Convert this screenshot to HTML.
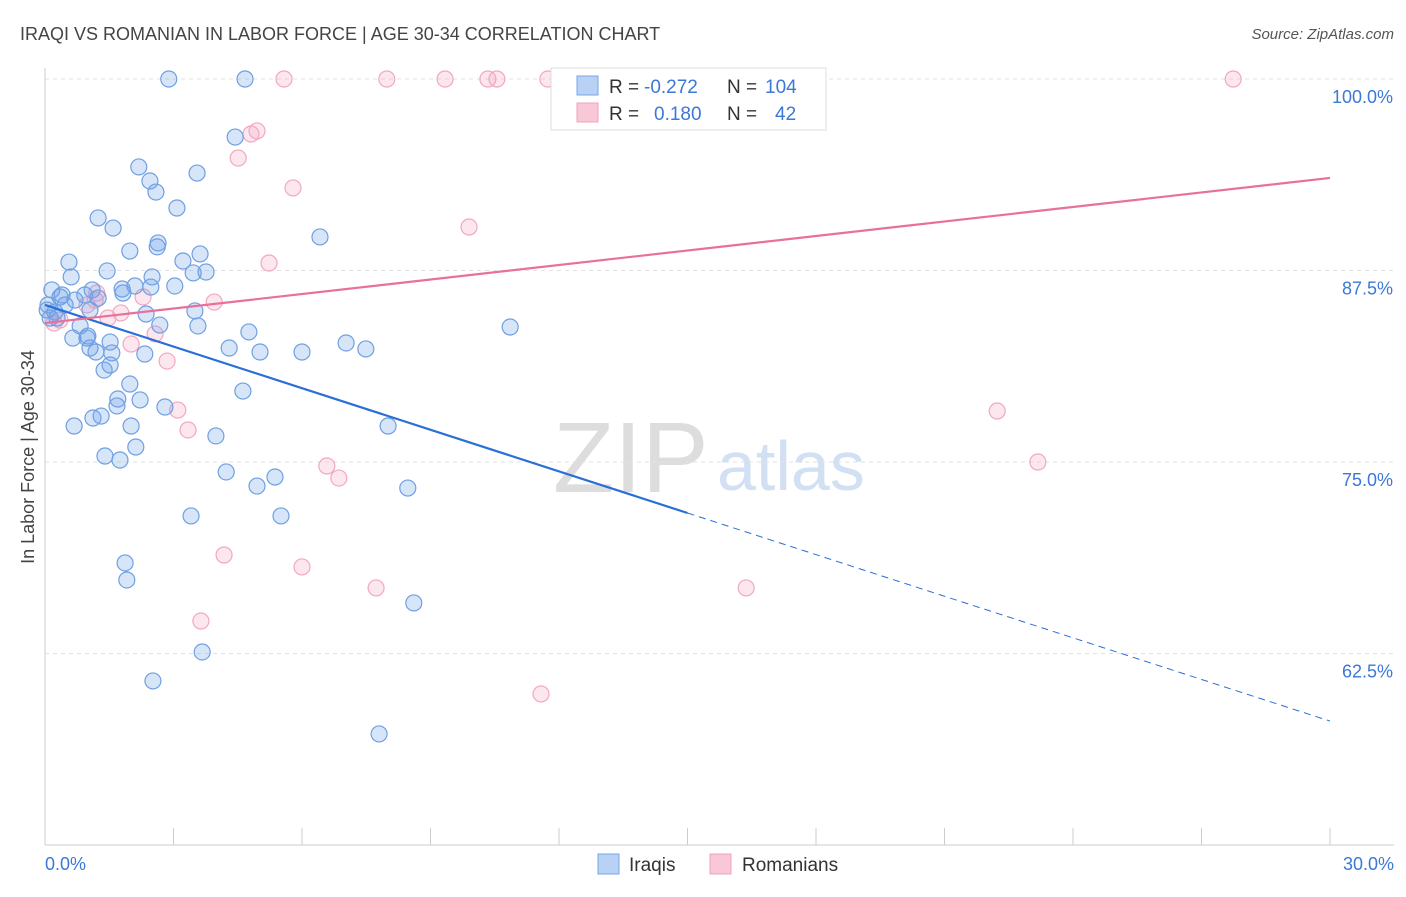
<!DOCTYPE html>
<html><head><meta charset="utf-8"><style>
body{margin:0;background:#fff;font-family:"Liberation Sans",sans-serif;}
svg text{font-family:"Liberation Sans",sans-serif;}
</style></head><body>
<svg id="chart" width="1406" height="892" viewBox="0 0 1406 892" xmlns="http://www.w3.org/2000/svg">
<text x="20" y="40" font-size="18" fill="#444">IRAQI VS ROMANIAN IN LABOR FORCE | AGE 30-34 CORRELATION CHART</text>
<text x="1394" y="39" font-size="15" fill="#555" text-anchor="end" font-style="italic">Source: ZipAtlas.com</text>
<g>
<text x="553" y="492" font-size="100" fill="#ddd" font-family="Liberation Serif">ZIP</text>
<text x="717" y="490" font-size="70" fill="#d2e0f3">atlas</text>
</g>
<g id="grid"></g>
<g id="axes"></g>
<g id="pts"></g>
<g id="lines"></g>
<text transform="translate(34,457) rotate(-90)" font-size="18" fill="#444" text-anchor="middle">In Labor Force | Age 30-34</text>
<g>
<rect x="551" y="68" width="275" height="62" fill="#fff" stroke="#ddd"/>
<rect x="577" y="76" width="21" height="19" fill="#b8d1f5" stroke="#7aa6e6"/>
<rect x="577" y="103" width="21" height="19" fill="#f9c8d7" stroke="#f0a0bc"/>
<text x="609" y="93" font-size="19" fill="#333">R = </text><text x="644" y="93" font-size="19" fill="#3b78d8">-0.272</text>
<text x="727" y="93" font-size="19" fill="#333">N = </text><text x="765" y="93" font-size="19" fill="#3b78d8">104</text>
<text x="609" y="120" font-size="19" fill="#333">R = </text><text x="654" y="120" font-size="19" fill="#3b78d8">0.180</text>
<text x="727" y="120" font-size="19" fill="#333">N = </text><text x="775" y="120" font-size="19" fill="#3b78d8">42</text>
</g>
<g>
<g><rect x="598" y="854" width="21" height="20" fill="#b8d1f5" stroke="#7aa6e6"/><text x="629" y="871" font-size="19" fill="#333">Iraqis</text></g>
<g><rect x="710" y="854" width="21" height="20" fill="#f9c8d7" stroke="#f0a0bc"/><text x="742" y="871" font-size="19" fill="#333">Romanians</text></g>
</g>
</svg>
<script>
const yTicks=[100,87.5,75,62.5];
const yTickLabels=["100.0%","87.5%","75.0%","62.5%"];
const xTicks=[0,3,6,9,12,15,18,21,24,27,30];
const iraqiX=[2.89,4.67,2.19,2.45,2.59,3.55,3.08,4.44,1.24,1.59,1.98,2.64,2.62,3.62,6.42,0.56,0.61,1.45,2.50,3.22,3.76,3.46,0.16,0.40,0.70,1.10,1.24,1.80,2.10,2.47,3.03,1.82,0.05,0.12,0.28,0.65,0.82,0.98,1.05,1.19,1.52,1.56,1.38,1.52,1.98,2.33,2.36,2.68,3.50,3.57,4.30,4.76,5.02,6.00,7.03,7.49,10.86,4.62,1.70,2.22,1.68,2.80,0.68,1.12,1.31,2.01,2.12,3.99,1.40,1.75,4.23,4.95,5.37,8.01,8.47,3.41,5.51,1.87,1.91,8.61,3.67,2.52,7.80,0.35,0.07,0.23,0.47,0.93,1.00,1.05];
const iraqiY=[100,100,94.26,93.34,92.62,93.86,91.58,96.21,90.93,90.27,88.77,89.30,89.04,88.58,89.69,88.05,87.08,87.47,87.08,88.12,87.40,87.34,86.23,85.90,85.57,86.23,85.70,86.29,86.49,86.42,86.49,86.03,84.92,84.40,84.40,83.09,83.88,83.09,82.44,82.18,82.83,82.12,81.00,81.33,80.09,82.05,84.66,83.94,84.86,83.88,82.44,83.49,82.18,82.18,82.77,82.38,83.81,79.63,79.11,79.05,78.66,78.59,77.35,77.87,78.00,77.35,75.98,76.70,75.39,75.13,74.35,73.43,74.02,77.35,73.30,71.48,71.48,68.41,67.30,65.80,62.60,60.71,57.25,85.77,85.25,84.79,85.25,85.90,83.22,84.92];
const romX=[5.58,7.98,9.34,10.34,10.55,11.74,13.38,14.89,16.62,27.74,12.09,13.91,4.95,4.81,4.51,5.79,9.90,5.23,3.95,2.29,1.21,0.98,1.47,1.77,2.01,2.57,2.85,0.21,3.10,3.34,6.58,6.86,22.23,23.18,4.18,6.00,7.73,16.37,3.64,11.58,0.35,1.17];
const romY=[100,100,100,100,100,100,100,100,100,100,98.96,98.04,96.61,96.41,94.84,92.89,90.34,87.99,85.44,85.77,86.03,85.25,84.40,84.73,82.70,83.36,81.59,84.07,78.39,77.09,74.74,73.95,78.33,75.00,68.93,68.15,66.78,66.78,64.62,59.86,84.27,85.57];
const iraqiTrend=[[0,85.25],[15,71.67],[30,58.09]];
const romTrend=[[0,84.07],[30,93.54]];
const NS="http://www.w3.org/2000/svg";
const X=v=>45+v/30*1285;
const Y=v=>79+(100-v)/12.5*191.5;
function mk(tag,attrs,parent){const e=document.createElementNS(NS,tag);for(const k in attrs)e.setAttribute(k,attrs[k]);parent.appendChild(e);return e;}
const grid=document.getElementById('grid'),axes=document.getElementById('axes'),pts=document.getElementById('pts'),lines=document.getElementById('lines');
yTicks.forEach((t,i)=>{
 const l=mk('line',{x1:45,x2:1394,y1:Y(t),y2:Y(t),stroke:'#e2e2e2','stroke-dasharray':'4,4'},grid);
 
 
 const tx=mk('text',{x:1393,y:Y(t)+24,'font-size':18,fill:'#3b78d8','text-anchor':'end'},axes);
 tx.textContent=yTickLabels[i];
 
 
});
mk('line',{x1:45,x2:45,y1:68,y2:845,stroke:'#ccc'},axes);
mk('line',{x1:45,x2:1394,y1:845,y2:845,stroke:'#ccc'},axes);
xTicks.forEach(t=>{
 const l=mk('line',{x1:X(t),x2:X(t),y1:828,y2:845,stroke:'#ccc'},axes);
 
 
});
const x0=mk('text',{x:45,y:870,'font-size':18,fill:'#3b78d8'},axes);x0.textContent='0.0%';


const x1=mk('text',{x:1394,y:870,'font-size':18,fill:'#3b78d8','text-anchor':'end'},axes);x1.textContent='30.0%';


romX.forEach((v,i)=>{
 const c=mk('circle',{cx:X(v),cy:Y(romY[i]),r:8,fill:'rgba(244,160,190,0.25)',stroke:'#f2a7c0','stroke-width':1.2},pts);
 
 
});
iraqiX.forEach((v,i)=>{
 const c=mk('circle',{cx:X(v),cy:Y(iraqiY[i]),r:8,fill:'rgba(110,160,235,0.28)',stroke:'#6f9fe2','stroke-width':1.2},pts);
 
 
});
const b1=mk('line',{x1:X(iraqiTrend[0][0]),y1:Y(iraqiTrend[0][1]),x2:X(iraqiTrend[1][0]),y2:Y(iraqiTrend[1][1]),stroke:'#2a6fd6','stroke-width':2.2},lines);


const b2=mk('line',{x1:X(iraqiTrend[1][0]),y1:Y(iraqiTrend[1][1]),x2:X(iraqiTrend[2][0]),y2:Y(iraqiTrend[2][1]),stroke:'#2a6fd6','stroke-width':1,'stroke-dasharray':'7,5'},lines);


const p1=mk('line',{x1:X(romTrend[0][0]),y1:Y(romTrend[0][1]),x2:X(romTrend[1][0]),y2:Y(romTrend[1][1]),stroke:'#e8709a','stroke-width':2.2},lines);


</script>
</body></html>
